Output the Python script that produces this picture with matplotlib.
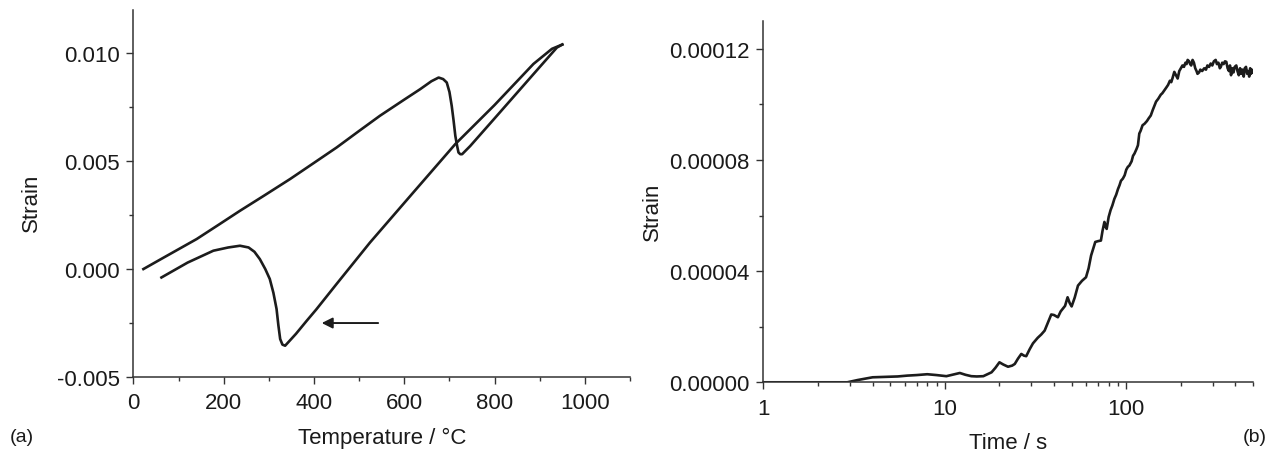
import numpy as np
import matplotlib.pyplot as plt
from matplotlib.ticker import MultipleLocator, FormatStrFormatter, FixedLocator, FuncFormatter, NullFormatter

plt.rcParams["font.family"] = ["Liberation Sans", "DejaVu Sans"]
plt.rcParams["axes.unicode_minus"] = False

# (a) dilatometry: heating and cooling branches
heat_T = [22, 60, 100, 140, 190, 236, 290, 347, 400, 450, 500, 546, 600, 635, 660,
          676, 686, 694, 700, 705, 709, 713, 717, 720, 724, 728, 746, 800, 850, 900, 938, 950]
heat_strain = [0.0, 0.00045, 0.00092, 0.00139, 0.00207, 0.0027, 0.00341, 0.00417, 0.00492,
               0.00563, 0.0064, 0.0071, 0.00785, 0.00833, 0.0087, 0.00887, 0.0088, 0.00864,
               0.0082, 0.00756, 0.0069, 0.00617, 0.0057, 0.0054, 0.00532, 0.00532, 0.0057,
               0.00698, 0.00817, 0.00936, 0.01026, 0.0104]

cool_T = [950, 927, 886, 800, 713, 620, 524, 450, 405, 384, 360, 336, 330, 325, 321,
          317, 310, 302, 292, 280, 268, 255, 236, 210, 177, 120, 62]
cool_strain = [0.0104, 0.0102, 0.0095, 0.0076, 0.00579, 0.00355, 0.00123, -0.00069, -0.00187,
               -0.00239, -0.003, -0.00355, -0.0035, -0.00324, -0.0026, -0.00185, -0.0011,
               -0.00046, 0.0, 0.00046, 0.0008, 0.001, 0.00108, 0.001, 0.00085, 0.0003, -0.00039]

# (b) isothermal strain vs time
time_s = [1.0, 2.9, 3.3, 3.7, 4.0, 4.5, 5.0, 5.5, 6.2, 7.0, 8.0, 9.0, 10.2, 11.0, 12.1, 13.0,
          14.0, 15.0, 16.3, 17.3, 18.1, 19.0, 20.0, 21.0, 22.3, 23.5, 24.3, 25.3, 26.4, 27.3,
          28.1, 29.3, 30.6, 32.5, 34.0, 35.5, 37.0, 38.6, 40.0, 42.0, 43.5, 44.6, 46.0, 47.5,
          48.8, 50.0, 52.0, 54.2, 57.0, 60.0, 62.0, 64.0, 66.0, 67.5, 70.0, 72.5, 74.0, 75.8,
          77.0, 78.0, 80.0, 82.0, 83.8, 86.0, 88.0, 90.0, 91.8, 93.5, 95.8, 98.0, 100.0, 102.0,
          104.0, 107.0, 109.0, 111.0, 114.0, 116.0, 118.0, 120.0, 123.0, 126.0, 130.0, 133.0,
          136.5, 140.0, 143.0, 146.0, 150.0, 155.0, 158.0, 162.0, 166.0, 170.0, 174.0, 177.0,
          180.0, 184.0, 188.0, 192.0, 196.0, 200.0, 204.0, 208.0, 212.0, 215.0, 218.0, 222.0,
          225.0, 228.0, 232.0, 236.0, 240.0, 244.0, 247.0, 252.0, 256.0, 262.0, 269.0, 275.0,
          280.0, 286.0, 292.0, 298.0, 304.0, 311.0, 316.0, 322.0, 328.0, 332.0, 338.0, 344.0,
          350.0, 356.0, 362.0, 368.0, 373.0, 378.0, 384.0, 390.0, 396.0, 404.0, 410.0, 417.0,
          424.0, 430.0, 437.0, 444.0, 450.0, 457.0, 464.0, 470.0, 476.0, 482.0, 487.0, 492.0, 496.0]
strain_e5 = [0, 0, 0.08, 0.14, 0.18, 0.19, 0.2, 0.21, 0.24, 0.26, 0.29, 0.26, 0.22, 0.27, 0.335,
             0.27, 0.22, 0.21, 0.22, 0.3, 0.36, 0.52, 0.72, 0.64, 0.56, 0.6, 0.66, 0.85, 1.02,
             0.96, 0.94, 1.18, 1.4, 1.6, 1.72, 1.86, 2.15, 2.44, 2.42, 2.34, 2.55, 2.64, 2.75,
             3.06, 2.85, 2.73, 3.05, 3.48, 3.65, 3.78, 4.1, 4.56, 4.85, 5.05, 5.08, 5.1, 5.45,
             5.77, 5.6, 5.52, 5.95, 6.2, 6.36, 6.6, 6.75, 6.95, 7.09, 7.25, 7.33, 7.45, 7.65,
             7.75, 7.8, 7.95, 8.15, 8.23, 8.4, 8.53, 8.95, 9.05, 9.25, 9.3, 9.4, 9.5, 9.6, 9.8,
             9.95, 10.1, 10.2, 10.35, 10.4, 10.5, 10.6, 10.7, 10.85, 10.8, 10.95, 11.17, 11.05,
             10.93, 11.2, 11.3, 11.4, 11.35, 11.5, 11.45, 11.6, 11.55, 11.45, 11.4, 11.6, 11.5,
             11.3, 11.2, 11.1, 11.15, 11.25, 11.2, 11.3, 11.25, 11.4, 11.35, 11.47, 11.4, 11.55,
             11.6, 11.45, 11.5, 11.3, 11.35, 11.5, 11.45, 11.55, 11.53, 11.3, 11.2, 11.4, 11.05,
             11.3, 11.15, 11.35, 11.4, 11.2, 11.05, 11.3, 11.1, 11.25, 11.0, 11.3, 11.35, 11.1,
             11.2, 11.0, 11.3, 11.1, 11.25, 11.15]
strain_b = np.array(strain_e5) * 1e-5

line_col = "#1c1c1c"
fs = 16

fig = plt.figure(figsize=(12.71, 4.52), dpi=100)
ax1 = fig.add_axes([0.105, 0.1637, 0.3907, 0.812])
ax2 = fig.add_axes([0.6006, 0.152, 0.3853, 0.7993])

for ax in (ax1, ax2):
    for s in ("top", "right"):
        ax.spines[s].set_visible(False)
    for s in ("left", "bottom"):
        ax.spines[s].set_linewidth(1.1)
        ax.spines[s].set_color("#333333")
    ax.tick_params(which="major", direction="out", length=5, width=1.0, colors="#333333",
                   labelsize=fs, labelcolor="#1a1a1a")
    ax.tick_params(which="minor", direction="out", length=3, width=1.0, colors="#333333")
    ax.tick_params(axis="x", pad=6)
    ax.tick_params(axis="y", pad=5)

# panel (a)
ax1.plot(heat_T, heat_strain, color=line_col, lw=1.9, solid_joinstyle="round")
ax1.plot(cool_T, cool_strain, color=line_col, lw=1.9, solid_joinstyle="round")
ax1.annotate("", xy=(417, -0.0025), xytext=(542, -0.0025),
             arrowprops=dict(arrowstyle="-|>", color=line_col, lw=1.4,
                             mutation_scale=16, shrinkA=0, shrinkB=0))
ax1.set_xlim(0, 1100)
ax1.set_ylim(-0.005, 0.012)
ax1.xaxis.set_major_locator(MultipleLocator(200))
ax1.xaxis.set_minor_locator(MultipleLocator(100))
ax1.yaxis.set_major_locator(FixedLocator([-0.005, 0.0, 0.005, 0.010]))
ax1.yaxis.set_minor_locator(FixedLocator([-0.0025, 0.0025, 0.0075]))
ax1.yaxis.set_major_formatter(FormatStrFormatter("%.3f"))
ax1.set_xlabel("Temperature / °C", fontsize=fs, color="#1a1a1a", labelpad=10)
ax1.set_ylabel("Strain", fontsize=fs, color="#1a1a1a")
ax1.yaxis.set_label_coords(-0.184, 0.477)

# panel (b)
ax2.plot(time_s, strain_b, color=line_col, lw=1.9, solid_joinstyle="round")
ax2.set_xscale("log")
ax2.set_xlim(1, 500)
ax2.set_ylim(0, 0.00013)
ax2.xaxis.set_major_formatter(FuncFormatter(lambda v, p: f"{v:g}"))
ax2.xaxis.set_minor_formatter(NullFormatter())
ax2.yaxis.set_major_locator(FixedLocator([0.0, 0.00004, 0.00008, 0.00012]))
ax2.yaxis.set_minor_locator(FixedLocator([0.00002, 0.00006, 0.0001]))
ax2.yaxis.set_major_formatter(FormatStrFormatter("%.5f"))
ax2.set_xlabel("Time / s", fontsize=fs, color="#1a1a1a", labelpad=10)
ax2.set_ylabel("Strain", fontsize=fs, color="#1a1a1a")
ax2.yaxis.set_label_coords(-0.205, 0.474)

fig.text(0.008, 0.031, "(a)", fontsize=14, color="#1a1a1a", va="center", ha="left")
fig.text(0.997, 0.033, "(b)", fontsize=14, color="#1a1a1a", va="center", ha="right")

fig.savefig("out.png", dpi=100)
